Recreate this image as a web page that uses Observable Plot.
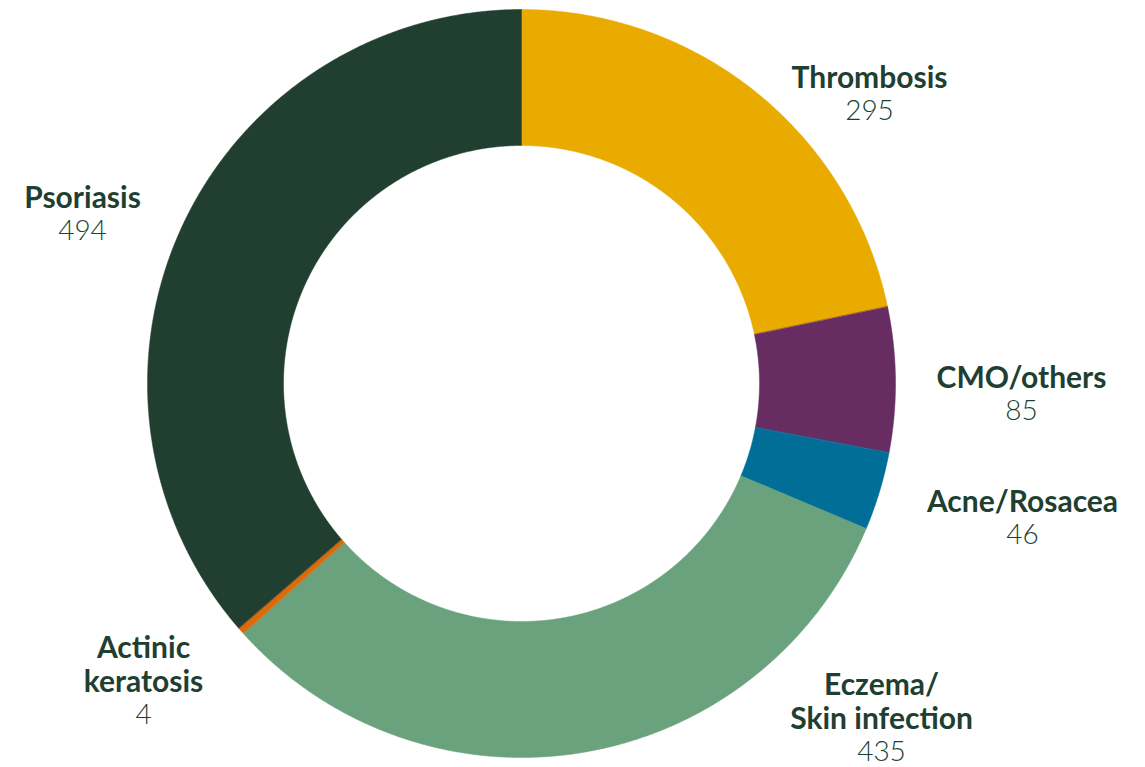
<!DOCTYPE html>
<html>
<head>
<meta charset="utf-8">
<script src="https://cdn.jsdelivr.net/npm/d3@7"></script>
<script src="https://cdn.jsdelivr.net/npm/@observablehq/plot@0.6"></script>
<style>
  html, body { margin: 0; padding: 0; background: #ffffff; }
  #chart svg { display: block; }
</style>
</head>
<body>
<div id="chart"></div>
<script>
// ---- data ----
const categories = ["Thrombosis", "CMO/others", "Acne/Rosacea", "Eczema/Skin infection", "Actinic keratosis", "Psoriasis"];
const labelLines = ["Thrombosis", "CMO/others", "Acne/Rosacea", "Eczema/\nSkin infection", "Actinic\nkeratosis", "Psoriasis"];
const values = [295, 85, 46, 435, 4, 494];
const colors = ["#E9AB00", "#672D63", "#006E96", "#69A27C", "#DC6A0A", "#213F31"];

// ---- layout (pixels) ----
const W = 1145, H = 767;
const cx = 521, cy = 383;
const rOuter = 374, rInner = 238;
// label anchors: [centre x, cap-top y] in page pixels
const labelAnchor = [[869, 63], [1021, 363], [1022, 487], [881, 670], [143, 633], [82, 183]];
const fontSize = 30, valueFontSize = 28, lineH = 34, capH = 22;

const total = d3.sum(values);
const slices = [];
let acc = 0;
categories.forEach((name, i) => {
  const a0 = acc / total * 2 * Math.PI;
  acc += values[i];
  const a1 = acc / total * 2 * Math.PI;
  slices.push({name, a0, a1});
});

const pts = [];
for (const s of slices) {
  const n = Math.max(2, Math.ceil((s.a1 - s.a0) / (0.25 * Math.PI / 180)));
  for (let k = 0; k <= n; k++) {
    const a = s.a0 + (s.a1 - s.a0) * k / n;
    pts.push({name: s.name, x: rOuter * Math.sin(a), y: rOuter * Math.cos(a)});
  }
  for (let k = n; k >= 0; k--) {
    const a = s.a0 + (s.a1 - s.a0) * k / n;
    pts.push({name: s.name, x: rInner * Math.sin(a), y: rInner * Math.cos(a)});
  }
}

const labels = categories.map((c, i) => {
  const nl = labelLines[i].split("\n").length;
  return {
    name: c, title: labelLines[i], value: String(values[i]),
    x: labelAnchor[i][0] - cx, y: cy - labelAnchor[i][1],
    vy: cy - (labelAnchor[i][1] + capH + nl * lineH)
  };
});

const chart = Plot.plot({
  width: W,
  height: H,
  margin: 0,
  x: {domain: [-cx, W - cx], range: [0, W], axis: null},
  y: {domain: [-(H - cy), cy], range: [H, 0], axis: null},
  color: {domain: categories, range: colors},
  style: {fontFamily: "Lato, sans-serif", background: "#ffffff"},
  marks: [
    Plot.line(pts, {x: "x", y: "y", z: "name", fill: "name", stroke: "name", strokeWidth: 0.5, curve: "linear-closed"}),
    Plot.text(labels, {
      x: "x", y: "y", text: "title",
      lineAnchor: "top",
      fontSize, fontWeight: 700, fill: "#213F31", lineHeight: lineH / fontSize,
      textAnchor: "middle"
    }),
    Plot.text(labels, {
      x: "x", y: "vy", text: "value",
      lineAnchor: "bottom",
      fontSize: valueFontSize, fontWeight: 300, fill: "#213F31",
      textAnchor: "middle"
    })
  ]
});
document.getElementById("chart").appendChild(chart);
</script>
</body>
</html>
